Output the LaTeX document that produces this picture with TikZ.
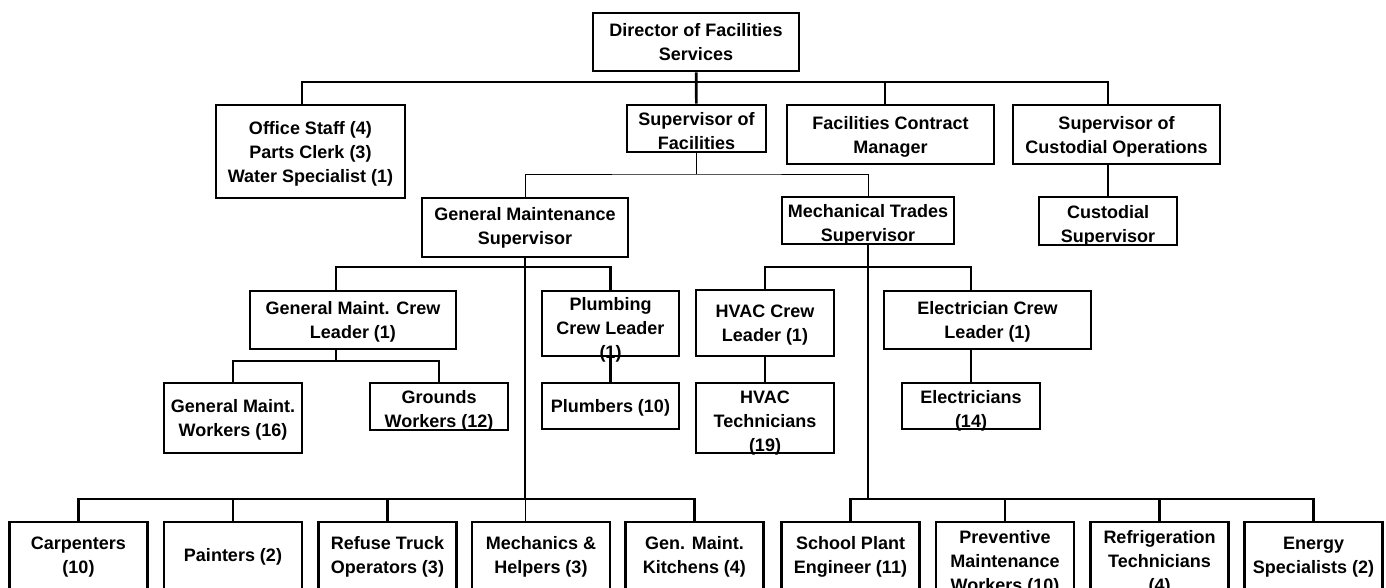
\documentclass[tikz,border=0pt]{standalone}
\usepackage{fontspec}
\setmainfont{Liberation Sans}
\newcommand{\boxtext}[2]{\raisebox{#1}[0pt][0pt]{\begin{tabular}[t]{@{}c@{}}#2\end{tabular}}}

\begin{document}
\begin{tikzpicture}[x=0.75pt,y=-0.75pt,
        box/.style 2 args={draw, line width=2pt, inner sep=0pt,
            minimum width=#1*0.75pt, minimum height=#2*0.75pt,
            font=\fontsize{13.5}{18}\selectfont\bfseries},
        link/.style={line width=2pt},
        thinlink/.style={line width=0.75pt}]
        \fill[white] (0,0) rectangle (1386,587);
        \useasboundingbox (0,0) rectangle (1386,587);

        \node[box={206}{58}] (dir) at (696,42) {\boxtext{4.1pt}{Director of Facilities\\Services}};

        \node[box={189}{93}] (off) at (310.5,151.5) {\boxtext{13.1pt}{Office Staff (4)\\Parts Clerk (3)\\Water Specialist (1)}};
        \node[box={139}{47}] (sup) at (696.5,128.5) {\boxtext{2.6pt}{Supervisor of\\Facilities}};
        \node[box={207}{59}] (fcm) at (890.5,134.5) {\boxtext{3.75pt}{Facilities Contract\\Manager}};
        \node[box={207}{59}] (sco) at (1116.5,134.5) {\boxtext{3.75pt}{Supervisor of\\Custodial Operations}};

        \node[box={206}{59}] (gms) at (525,227.5) {\boxtext{4.9pt}{General Maintenance\\Supervisor}};
        \node[box={172}{47}] (mt) at (868,220.5) {\boxtext{1.9pt}{Mechanical Trades\\Supervisor}};
        \node[box={138}{48}] (cust) at (1108,221) {\boxtext{1.9pt}{Custodial\\Supervisor}};

        \node[box={206}{58}] (gmcl) at (353,320) {\boxtext{4.1pt}{General Maint. Crew\\Leader (1)}};
        \node[box={137}{65}] (plc) at (610.5,323.5) {\boxtext{9.4pt}{Plumbing\\Crew Leader\\(1)}};
        \node[box={138}{66}] (hcl) at (765,323) {\boxtext{4.1pt}{HVAC Crew\\Leader (1)}};
        \node[box={207}{58}] (ecl) at (987.5,320) {\boxtext{4.1pt}{Electrician Crew\\Leader (1)}};

        \node[box={138}{70}] (gmw) at (233,418) {\boxtext{4.1pt}{General Maint.\\Workers (16)}};
        \node[box={138}{47}] (grw) at (439,406.5) {\boxtext{2.25pt}{Grounds\\Workers (12)}};
        \node[box={137}{46}] (plu) at (610.5,406) {\boxtext{-4.9pt}{Plumbers (10)}};
        \node[box={138}{70}] (hvt) at (765,418) {\boxtext{10.9pt}{HVAC\\Technicians\\(19)}};
        \node[box={138}{46}] (elec) at (971,406) {\boxtext{1.9pt}{Electricians\\(14)}};

        \node[box={138}{72}] (carp) at (78.5,558) {\boxtext{6.4pt}{Carpenters\\(10)}};
        \node[box={138}{72}] (paint) at (233,558) {\boxtext{-2.6pt}{Painters (2)}};
        \node[box={138}{72}] (refuse) at (387.5,558) {\boxtext{6.4pt}{Refuse Truck\\Operators (3)}};
        \node[box={138}{72}] (mech) at (541,558) {\boxtext{6.4pt}{Mechanics \&\\Helpers (3)}};
        \node[box={138}{72}] (gmk) at (694.5,558) {\boxtext{6.4pt}{Gen. Maint.\\Kitchens (4)}};
        \node[box={138}{72}] (spe) at (850.5,558) {\boxtext{6.4pt}{School Plant\\Engineer (11)}};
        \node[box={138}{72}] (pmw) at (1005,558) {\boxtext{10.9pt}{Preventive\\Maintenance\\Workers (10)}};
        \node[box={138}{72}] (ref) at (1159.5,558) {\boxtext{10.9pt}{Refrigeration\\Technicians\\(4)}};
        \node[box={138}{72}] (ener) at (1313.5,558) {\boxtext{6.4pt}{Energy\\Specialists (2)}};

        \coordinate (t1) at (302,82);
        \coordinate (t2) at (885,82);
        \coordinate (t3) at (1108,82);
        \draw[link] (t1 |- off.north) -- (t1) -- (t3) -- (t3 |- sco.north);
        \draw[link] (t2) -- (t2 |- fcm.north);
        \draw[link] (dir) -- (sup);
        \draw[link] (sco.south -| cust) -- (cust);

        \coordinate (s) at (696.5,174);
        \draw[thinlink] (sup) -- (s);
        \draw[thinlink] (gms) |- (s) -| (mt);

        \coordinate (g1) at (336,267);
        \coordinate (g2) at (336,361);
        \coordinate (l) at (525,499);
        \draw[link] (gms) -- (l);
        \draw[link] (g1 |- gmcl.north) -- (g1) -| (plc);
        \draw[link] (gmcl.south -| g2) -- (g2);
        \draw[link] (gmw) |- (g2) -| (grw);
        \draw[link] (plc) -- (plu);
        \draw[link] (carp) |- (l) -| (gmk);
        \draw[link] (paint) -- (paint |- l);
        \draw[link] (refuse) -- (refuse |- l);
        \draw[thinlink] (l) -- (l |- mech.north);

        \coordinate (m) at (868,267);
        \coordinate (r) at (868,499);
        \draw[link] (mt) -- (r);
        \draw[link] (hcl) |- (m) -| (elec |- ecl.north);
        \draw[link] (hcl) -- (hvt);
        \draw[link] (elec |- ecl.south) -- (elec);
        \draw[link] (spe) |- (r) -| (ener);
        \draw[link] (pmw) -- (pmw |- r);
        \draw[link] (ref) -- (ref |- r);
\end{tikzpicture}
\end{document}
